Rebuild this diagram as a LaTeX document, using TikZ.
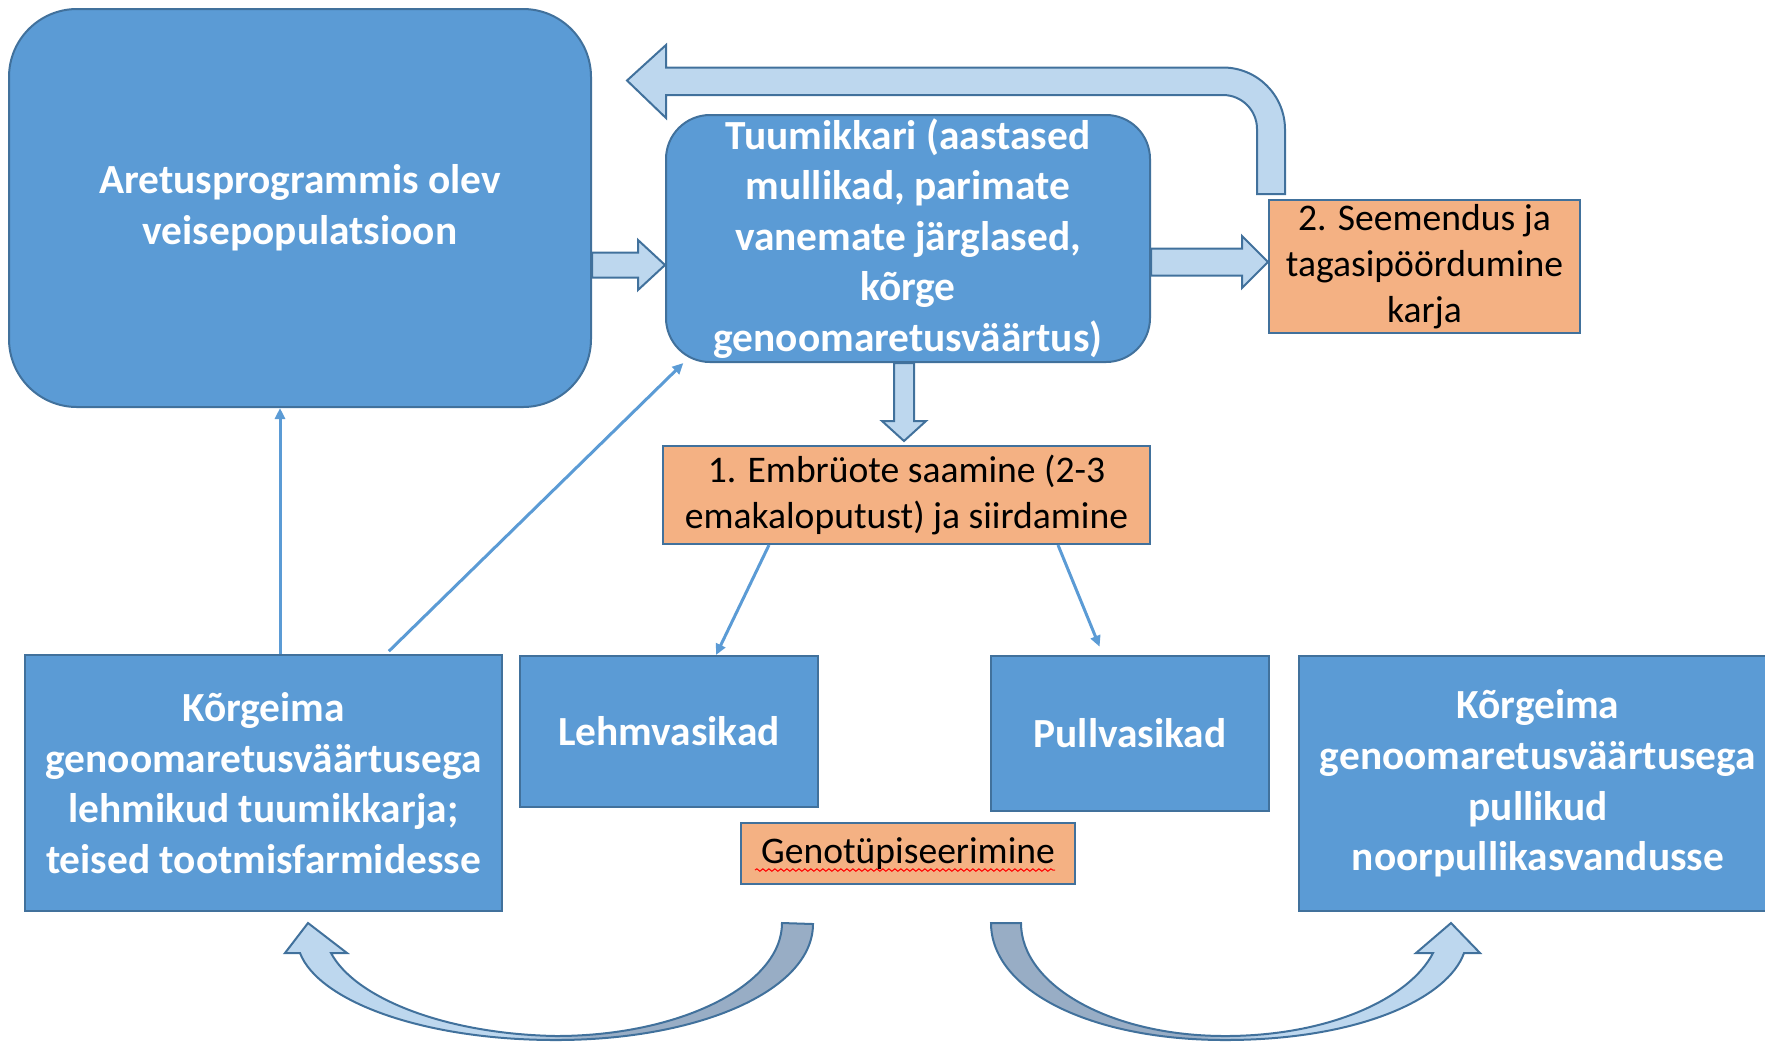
\documentclass[tikz,border=0pt]{standalone}
\usepackage{fontspec}
\setmainfont{Carlito}
\usepackage{tikz}
\usetikzlibrary{
    arrows.meta,
    calc,
    positioning,
    decorations.pathmorphing
}
\definecolor{BoxBlue}{HTML}{5B9BD5}
\definecolor{BoxLine}{HTML}{41719C}
\definecolor{BoxOrange}{HTML}{F4B183}
\definecolor{ArrowLight}{HTML}{BDD7EE}
\definecolor{ArrowDark}{HTML}{98ADC5}
\pgfdeclarehorizontalshading{curveleft}{100bp}{color(0bp)=(ArrowLight); color(46bp)=(ArrowLight); color(54bp)=(ArrowDark); color(100bp)=(ArrowDark)}
\pgfdeclarehorizontalshading{curveright}{100bp}{color(0bp)=(ArrowDark); color(46bp)=(ArrowDark); color(54bp)=(ArrowLight); color(100bp)=(ArrowLight)}
\tikzset{
    bluebox/.style={
        rectangle,
        draw=BoxLine,
        line width=1pt,
        fill=BoxBlue,
        text=white,
        align=center,
        inner sep=0pt,
        font=\fontsize{20.7}{25.3}\selectfont\bfseries,
    },
    roundbox/.style={
        bluebox,
        rounded corners=22pt,
    },
    orangebox/.style={
        rectangle,
        draw=BoxLine,
        line width=1pt,
        fill=BoxOrange,
        text=black,
        align=center,
        inner sep=0pt,
        font=\fontsize{18.8}{23}\selectfont,
    },
    blockarrow/.style={
        draw=BoxLine,
        line width=1pt,
        fill=ArrowLight,
        line join=miter,
    },
    curvearrow/.style={
        draw=BoxLine,
        line width=1pt,
        shade,
    },
    link/.style={
        draw=BoxBlue,
        line width=1.5pt,
        -{Triangle[length=5.5pt,width=5pt]},
    },
}
% from, to, half shaft, half head, head length
\newcommand{\blockright}[5]{%
    \draw[blockarrow] ($(#1)+(0,-#3)$) -- ($(#2)+(-#5,-#3)$) -- ($(#2)+(-#5,-#4)$) -- (#2)
        -- ($(#2)+(-#5,#4)$) -- ($(#2)+(-#5,#3)$) -- ($(#1)+(0,#3)$) -- cycle;}
\newcommand{\blockdown}[5]{%
    \draw[blockarrow] ($(#1)+(-#3,0)$) -- ($(#2)+(-#3,-#5)$) -- ($(#2)+(-#4,-#5)$) -- (#2)
        -- ($(#2)+(#4,-#5)$) -- ($(#2)+(#3,-#5)$) -- ($(#1)+(#3,0)$) -- cycle;}

\begin{document}
\begin{tikzpicture}[x=0.5pt,y=-0.5pt]
    \useasboundingbox (0,0) rectangle (1765,1041);

    \node[roundbox,rounded corners=34pt,minimum width=291pt,minimum height=199pt] (aretus) at (300,208)
        {Aretusprogrammis olev\\veisepopulatsioon};
    \node[roundbox,minimum width=242pt,minimum height=123.5pt] (tuumik) at (908,238.5)
        {Tuumikkari (aastased\\mullikad, parimate\\vanemate järglased,\\kõrge\\genoomaretusväärtus)};
    \node[orangebox,minimum width=155.5pt,minimum height=66.5pt] (seemendus) at (1424.5,266.5)
        {2. Seemendus ja\\tagasipöördumine\\karja};
    \node[orangebox,minimum width=243.5pt,minimum height=49pt] (embryo) at (906.5,495)
        {1. Embrüote saamine (2-3\\emakaloputust) ja siirdamine};

    \node[bluebox,minimum width=238.5pt,minimum height=128pt] (lehmikud) at (263.5,783)
        {Kõrgeima\\genoomaretusväärtusega\\lehmikud tuumikkarja;\\teised tootmisfarmidesse};
    \node[bluebox,minimum width=149pt,minimum height=75.5pt] (lehmvasikad) at (669,731.5) {Lehmvasikad};
    \node[bluebox,minimum width=139pt,minimum height=77.5pt] (pullvasikad) at (1130,733.5) {Pullvasikad};
    \node[bluebox,minimum width=239pt,minimum height=127.5pt] (pullikud) at (1538,783.5)
        {Kõrgeima\\genoomaretusväärtusega\\pullikud\\noorpullikasvandusse};
    \node[orangebox,minimum width=167pt,minimum height=30.5pt] (geno) at (908,853.5) {Genotüpiseerimine};
    \draw[red,line width=0.5pt,decorate,decoration={snake,amplitude=0.6pt,segment length=3pt}]
        ($(geno.south west)+(15,-15)$) -- ($(geno.south east)+(-21,-15)$);

    \coordinate (a1) at (aretus.east |- 0,265);
    \coordinate (a2) at (tuumik.west |- 0,265);
    \blockright{a1}{a2}{12.5}{25}{27}

    \coordinate (b1) at (tuumik.east |- 0,262);
    \coordinate (b2) at (seemendus.west |- 0,262);
    \blockright{b1}{b2}{13.5}{26}{26}

    \coordinate (c1) at (tuumik.south -| 904,0);
    \coordinate (c2) at ($(embryo.north -| 904,0)+(0,-4)$);
    \blockdown{c1}{c2}{10}{22}{20}

    \coordinate (u1) at ($(seemendus.north -| 1271,0)+(0,-5)$);
    \coordinate (uend) at ($(tuumik.north west)+(-38,-33.5)$);
    \draw[blockarrow] ($(u1)+(-14,0)$) -- (1257,129) arc[start angle=0,end angle=-90,radius=34]
        -- (666,95) -- (666,118) -- (uend) -- (666,45) -- (666,67.5)
        -- (1223,67.5) arc[start angle=-90,end angle=0,radius=62] -- ($(u1)+(14,0)$) -- cycle;

    \draw[link] (lehmikud.north -| 280,0) -- (aretus.south -| 280,0);
    \draw[link,shorten <=2pt] (lehmikud.north -| 386,0) -- (tuumik.209);
    \draw[link] (embryo.south -| 769,0) -- (lehmvasikad.north -| 716,0);
    \draw[link,shorten >=4.5pt] (embryo.south -| 1058,0) -- (pullvasikad.north -| 1103,0);

    \path[curvearrow,shading=curveleft] ($(lehmvasikad.south west)!0.98!(lehmvasikad.south east)+(0,116)$)
        .. controls (813,990) and (700,1040) .. (556,1040)
        .. controls (420,1040) and (318,1000) .. (300,953) -- (285,953) -- (308,923) -- (347,953) -- (331,953)
        .. controls (355,998) and (445,1034) .. (556,1036)
        .. controls (680,1036) and (782,985) .. (782,923) -- cycle;
    \path[curvearrow,shading=curveright] (991,923)
        .. controls (991,990) and (1090,1040) .. (1225,1040)
        .. controls (1360,1040) and (1448,998) .. (1464,953) -- (1480,953) -- (1451,923) -- (1416,953) -- (1433,953)
        .. controls (1410,998) and (1330,1036) .. (1225,1036)
        .. controls (1110,1036) and (1021,985) .. (1021,923) -- cycle;
\end{tikzpicture}
\end{document}
